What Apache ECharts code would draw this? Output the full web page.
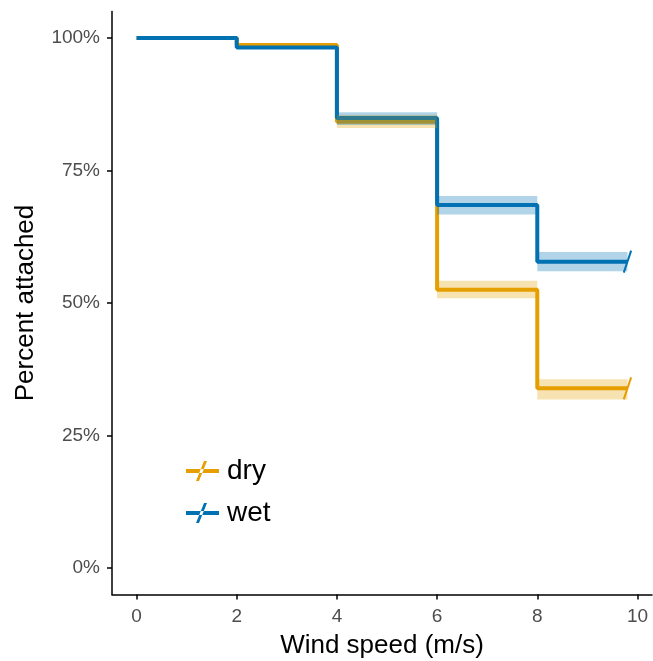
<!DOCTYPE html>
<html>
<head>
<meta charset="utf-8">
<script src="https://cdn.jsdelivr.net/npm/echarts@6/dist/echarts.min.js"></script>
<style>
  html, body { margin: 0; padding: 0; background: #fff; }
  #chart { width: 653px; height: 661px; }
</style>
</head>
<body>
<div id="chart"></div>
<script>
// step points: [wind speed, percent attached]
const dryPoints = [[0, 100], [2, 98.7], [4, 84.2], [6, 52.5], [8, 33.9], [9.8, 33.9]]
const wetPoints = [[0, 100], [2, 98.2], [4, 84.9], [6, 68.5], [8, 57.8], [9.8, 57.8]]
// confidence bands: [x start, x end, lower, upper]
const dryBands = [[4, 6, 83.0, 85.5], [6, 8, 50.9, 54.2], [8, 9.8, 31.8, 35.6]]
const wetBands = [[4, 6, 83.6, 86.0], [6, 8, 66.7, 70.2], [8, 9.8, 56.0, 59.6]]
// censoring marks at the end of each curve
const dryCensor = [[9.8, 33.9]]
const wetCensor = [[9.8, 57.8]]
const xTicks = [0, 2, 4, 6, 8, 10]
const yTicks = [0, 25, 50, 75, 100]

const DRY = '#E69F00'
const WET = '#0072B2'
const FONT = 'Liberation Sans, Arial, sans-serif'

function bandItem(color) {
  return function (params, api) {
    const p1 = api.coord([api.value(0), api.value(3)])
    const p2 = api.coord([api.value(1), api.value(2)])
    return {
      type: 'rect',
      shape: { x: p1[0], y: p1[1], width: p2[0] - p1[0], height: p2[1] - p1[1] },
      style: { fill: color, opacity: 0.3 }
    }
  }
}

function censorItem(color) {
  return function (params, api) {
    const c = api.coord([api.value(0), api.value(1)])
    return {
      type: 'line',
      shape: { x1: c[0] - 3.7, y1: c[1] + 11, x2: c[0] + 3.7, y2: c[1] - 11 },
      style: { stroke: color, lineWidth: 2 }
    }
  }
}

const chart = echarts.init(document.getElementById('chart'))

chart.setOption({
  animation: false,
  backgroundColor: '#fff',
  grid: { left: 112, right: 1, top: 11.5, bottom: 66.5, outerBoundsMode: 'none' },
  legend: {
    data: ['dry', 'wet'],
    orient: 'vertical',
    left: 181,
    top: 452,
    itemWidth: 33,
    itemHeight: 20,
    itemGap: 14,
    icon: 'path://M0,8 L33,8 L33,12 L0,12 Z M10,20 L13,20 L21,0 L18,0 Z',
    itemStyle: { borderWidth: 0 },
    textStyle: { fontFamily: FONT, fontSize: 28, color: '#000', padding: [0, 0, 0, 3] },
    selectedMode: false
  },
  xAxis: {
    type: 'value',
    min: -0.49,
    max: 10.29,
    name: 'Wind speed (m/s)',
    nameLocation: 'middle',
    nameGap: 38,
    nameTextStyle: { fontFamily: FONT, fontSize: 26, color: '#000' },
    axisLine: { onZero: false, lineStyle: { color: '#000', width: 1.5 } },
    axisTick: { customValues: xTicks, length: 5, lineStyle: { color: '#000', width: 1.5 } },
    axisLabel: { customValues: xTicks, fontFamily: FONT, fontSize: 19, color: '#4D4D4D', margin: 13 },
    splitLine: { show: false }
  },
  yAxis: {
    type: 'value',
    min: -5,
    max: 105,
    name: 'Percent attached',
    nameLocation: 'middle',
    nameGap: 73,
    nameTextStyle: { fontFamily: FONT, fontSize: 26, color: '#000' },
    axisLine: { show: true, onZero: false, lineStyle: { color: '#000', width: 1.5 } },
    axisTick: { show: true, customValues: yTicks, length: 5, lineStyle: { color: '#000', width: 1.5 } },
    axisLabel: {
      customValues: yTicks,
      fontFamily: FONT,
      fontSize: 19,
      color: '#4D4D4D',
      margin: 12,
      formatter: v => v + '%'
    },
    splitLine: { show: false }
  },
  series: [
    {
      name: 'dry',
      type: 'line',
      step: 'end',
      data: dryPoints,
      symbol: 'none',
      color: DRY,
      lineStyle: { color: DRY, width: 4 },
      z: 2
    },
    {
      name: 'wet',
      type: 'line',
      step: 'end',
      data: wetPoints,
      symbol: 'none',
      color: WET,
      lineStyle: { color: WET, width: 4 },
      z: 3
    },
    {
      name: 'dry band',
      type: 'custom',
      data: dryBands,
      renderItem: bandItem(DRY),
      encode: { x: [0, 1], y: [2, 3] },
      z: 4
    },
    {
      name: 'wet band',
      type: 'custom',
      data: wetBands,
      renderItem: bandItem(WET),
      encode: { x: [0, 1], y: [2, 3] },
      z: 5
    },
    {
      name: 'dry censor',
      type: 'custom',
      data: dryCensor,
      renderItem: censorItem(DRY),
      encode: { x: 0, y: 1 },
      z: 6
    },
    {
      name: 'wet censor',
      type: 'custom',
      data: wetCensor,
      renderItem: censorItem(WET),
      encode: { x: 0, y: 1 },
      z: 6
    }
  ]
})
</script>
</body>
</html>
